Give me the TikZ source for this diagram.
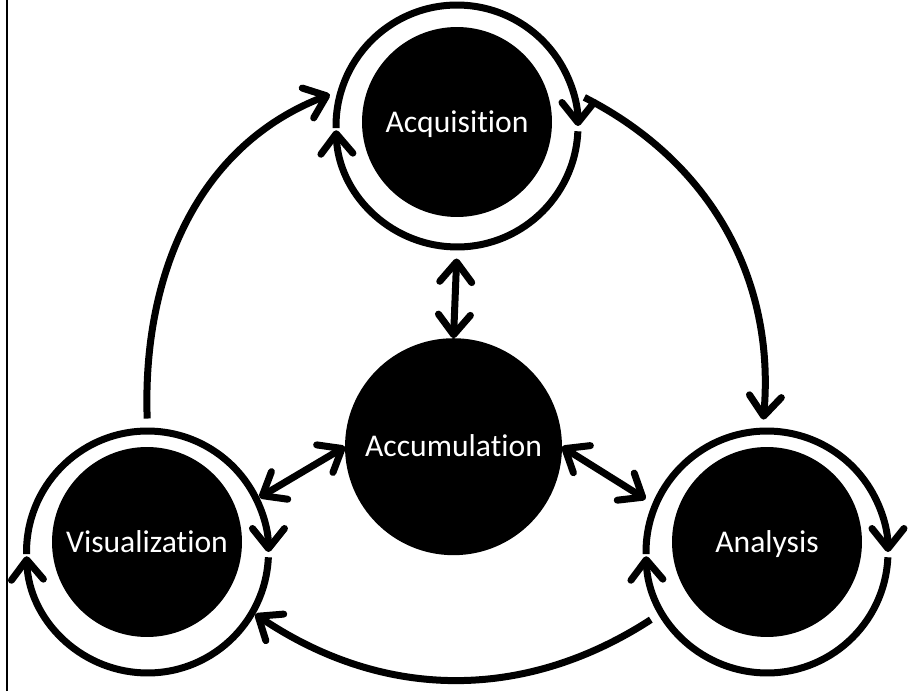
\documentclass[tikz,border=0pt]{standalone}
\usepackage{fontspec}
\setmainfont[Ligatures=NoCommon]{Carlito}
\usetikzlibrary{arrows.meta}

\begin{document}
\begin{tikzpicture}[x=0.02cm, y=0.02cm,
    >={Straight Barb[length=0.4cm, width=0.64cm, round]},
    stage/.style={circle, fill=black, text=white, minimum size=3.8cm, inner sep=0pt, outer sep=0pt, text height=11.6pt, text depth=0pt, font=\fontsize{18}{22}\selectfont},
    cycle/.style={circle, minimum size=4.84cm, inner sep=0pt, outer sep=0.07cm},
    link/.style={line width=0.14cm}]
    \useasboundingbox (0,0) rectangle (910,691);
    \draw[line width=0.03cm] (7,0) -- (7,691);

    % Outer stages
    \node[stage] (acq) at (457,569) {Acquisition};
    \node[cycle] (acq-ring) at (457,565) {};
    \node[stage] (viz) at (147,149) {Visualization};
    \node[cycle] (viz-ring) at (147.5,139) {};
    \node[stage] (ana) at (767,149) {Analysis};
    \node[cycle] (ana-ring) at (767,139) {};

    % Center stage
    \node[stage, minimum size=4.34cm] (acc) at (453.5,244.3) {Accumulation};

    % Rings around the outer stages
    \foreach \n in {acq,viz,ana} {
        \draw[link, ->] (\n-ring.center) ++(181:2.42cm) arc[start angle=181, end angle=0, radius=2.42cm];
        \draw[link, ->] (\n-ring.center) ++(-2.5:2.42cm) arc[start angle=-2.5, end angle=-178, radius=2.42cm];
    }

    % Connections
    \draw[link, <->, shorten <=0.16cm] (acq-ring.south) -- (acc.north);
    \draw[link, <->] (acc.west) -- (viz-ring.26);
    \draw[link, <->, shorten >=0.16cm] (acc.east) -- (ana-ring.157);
    \draw[link, ->, shorten <=0.16cm, shorten >=0.16cm] (acq-ring.15) to[out=-27, in=85] (ana-ring.92);
    \draw[link, ->, shorten <=0.18cm, shorten >=0.16cm] (viz-ring.90) to[out=92, in=-159] (acq-ring.164);
    \draw[link, ->, shorten <=0.2cm] (ana-ring.210) to[out=-147, in=-34] (viz-ring.-30);
\end{tikzpicture}
\end{document}
